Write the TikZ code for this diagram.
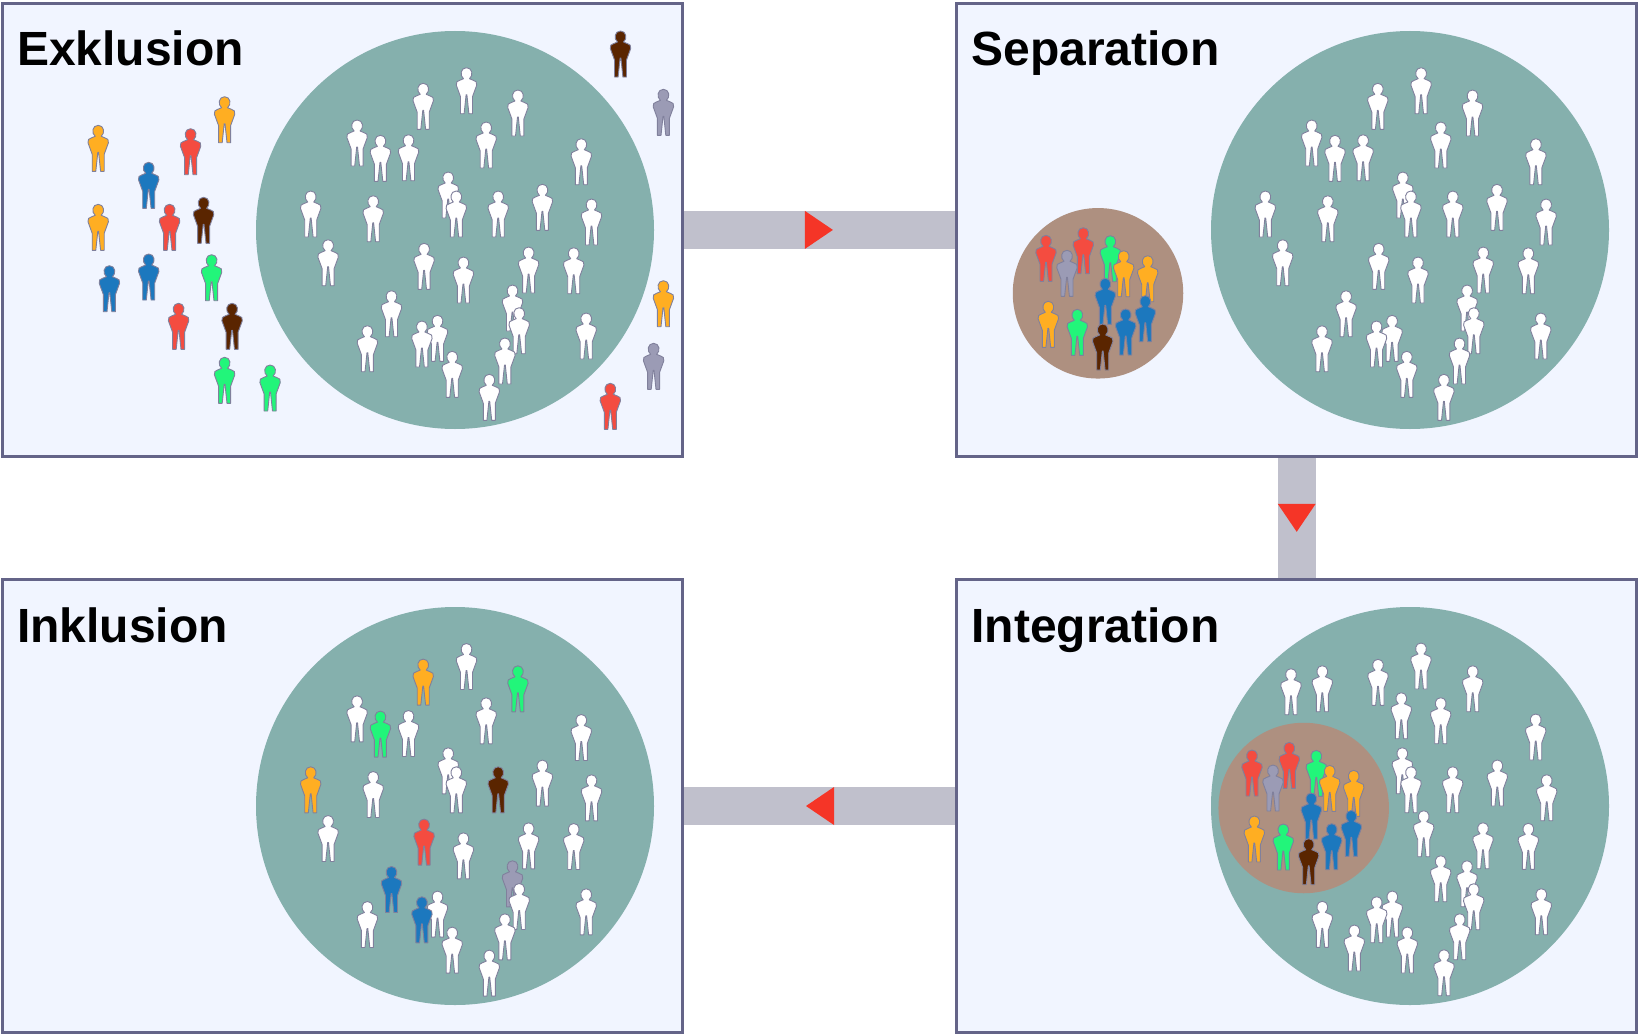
\documentclass[tikz,border=0pt]{standalone}
\usepackage{fontspec}
\setmainfont{Liberation Sans}
\usetikzlibrary{shapes.geometric}
\definecolor{panelfill}{HTML}{F1F5FF}
\definecolor{panelline}{HTML}{646488}
\definecolor{bandfill}{HTML}{C0C0CC}
\definecolor{markfill}{HTML}{F53527}
\definecolor{mainfill}{HTML}{85B0AD}
\definecolor{minorfill}{HTML}{AE9080}
\definecolor{figline}{HTML}{80809C}
\definecolor{yel}{HTML}{FFAE22}
\definecolor{red}{HTML}{F44C40}
\definecolor{blu}{HTML}{1C78BE}
\definecolor{gre}{HTML}{22F57A}
\definecolor{bro}{HTML}{5A2500}
\definecolor{gra}{HTML}{9B9BB5}
\tikzset{panel/.style = {shape=rectangle, draw=panelline, fill=panelfill, line width=3, minimum width=680, minimum height=452.8, inner sep=0}}
\tikzset{title/.style = {font=\bfseries\fontsize{48}{50}\selectfont, inner sep=0, anchor=base west}}
\tikzset{band/.style = {-, draw=bandfill, line width=38}}
\tikzset{marker/.style = {shape=isosceles triangle, isosceles triangle stretches, fill=markfill, minimum width=38, minimum height=28, inner sep=0, sloped, allow upside down}}
\tikzset{mainset/.style = {shape=circle, fill=mainfill, minimum size=398, inner sep=0}}
\tikzset{minorset/.style = {shape=circle, fill=minorfill, minimum size=170.5, inner sep=0}}
\tikzset{person/.pic = {\path[draw=figline, line width=0.9, line join=round, pic actions]
  (-6,23) -- (-6,6) -- (-10.2,-5.5) .. controls (-10.6,-8.5) and (-9.5,-9.8) .. (-7,-10.3) -- (-3,-12)
  .. controls (-7,-15) and (-6,-23) .. (0,-23) .. controls (6,-23) and (7,-15) .. (3,-12)
  -- (7,-10.3) .. controls (9.5,-9.8) and (10.6,-8.5) .. (10.2,-5.5) -- (6,6) -- (6,23) -- (2.4,23)
  -- (0.4,4) -- (-0.4,4) -- (-2.4,23) -- cycle;}}
\def \mainlist {423.2/106.3/yel, 466.5/90.7/white, 517.9/113/gre, 357.1/143/white, 380.4/158.3/gre,
  408.5/157.7/white, 486.2/145/white, 581.3/161.7/white, 448.2/195/white, 456.3/214/white,
  310.7/214/yel, 373.2/218.7/white, 498.2/214/bro, 542.4/207.3/white, 591.5/222/white,
  328.1/262.7/white, 424.1/266.3/red, 463.4/280/white, 528.6/270/white, 573.7/270.7/white,
  512.5/308/gra, 519.2/330.7/white, 391.5/313.7/blu, 367.4/348.7/white, 437.5/338.3/white,
  421.9/344/blu, 452.2/374.3/white, 504.9/361/white, 489.3/397.3/white, 586.2/336/white}
\def \outlist {224.6/119.7/yel, 98.2/148.3/yel, 190.6/151.7/red, 148.7/185.3/blu, 98.2/227.3/yel,
  169.6/227.3/red, 203.6/220.3/bro, 109.4/288.7/blu, 148.7/277/blu, 211.6/277.7/gre,
  178.6/326.3/red, 232.1/326.3/bro, 224.6/380.3/gre, 270.1/388/gre, 620.5/54/bro,
  663.4/112.3/gra, 663.4/303.7/yel, 653.6/366.3/gra, 610.3/406.3/red}
\def \minorlist {-51.7/-35/red, -14.4/-42.6/red, -30.7/-20/gra, 12.6/-34.6/gre, 26/-19.6/yel,
  50/-14.6/yel, 7.6/8/blu, 47.6/25.4/blu, 28/38.7/blu, -49.4/31/yel, -20.4/39/gre, 5/53.7/bro}
\def \intlist {1291/691.7, 1322.3/688.7, 1378/682.3, 1421/666, 1472.7/688.7, 1401.3/715.7,
  1440.7/720.7, 1535.7/737, 1402.3/770.7, 1411/789.7, 1452.7/789.7, 1497.3/783, 1546.7/797.7,
  1423.7/833.7, 1483/845.7, 1528.3/846.3, 1440.7/878.7, 1467/883.7, 1473.7/906.7, 1541.3/911.7,
  1322.3/924.3, 1354.3/948, 1392.3/914, 1376.7/919.7, 1407.3/950, 1459.7/936.7, 1444/972.7}
\begin{document}
\begin{tikzpicture}[x=1pt, y=-1pt]
\useasboundingbox (0,0) rectangle (1640,1033);
\node[panel](exkl) at (342.2,229.9) {};
\node[panel](sep) at (1296.7,229.9) {};
\node[panel](ink) at (342.2,806) {};
\node[panel](int) at (1296.7,806) {};
\draw[band] (exkl.east) -- (sep.west) node[pos=0.4835, marker](mark1) {};
\draw[band] (sep.south) -- (int.north) node[pos=0.466, marker](mark2) {};
\draw[band] (int.west) -- (ink.east) node[pos=0.4835, marker](mark3) {};
\node[title](exkltext) at (17,66) {Exklusion};
\node[title](septext) at (971.3,66) {Separation};
\node[title](inktext) at (17,642) {Inklusion};
\node[title](inttext) at (971.3,642) {Integration};
\node[mainset](exklmain) at (455,230) {};
\node[mainset](sepmain) at (1410,230) {};
\node[mainset](inkmain) at (455,806) {};
\node[mainset](intmain) at (1410,806) {};
\node[minorset](sepminor) at (1098,293.3) {};
\node[minorset](intminor) at (1303.7,808) {};
\foreach \x/\y/\c in \mainlist {
  \pic[fill=white] at (\x,\y) {person};
  \pic[fill=white] at (\x+954.6,\y) {person};
  \pic[fill=\c] at (\x,\y+575.8) {person};
}
\foreach \x/\y/\c in \outlist {
  \pic[fill=\c] at (\x,\y) {person};
}
\foreach \x/\y in \intlist {
  \pic[fill=white] at (\x,\y) {person};
}
\foreach \x/\y/\c in \minorlist {
  \pic[fill=\c] at (\x+1097.7,\y+293.3) {person};
  \pic[fill=\c] at (\x+1303.7,\y+808) {person};
}
\end{tikzpicture}
\end{document}
